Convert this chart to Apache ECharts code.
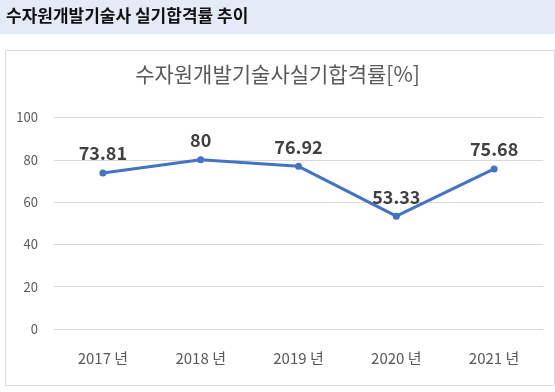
<!DOCTYPE html>
<html><head><meta charset="utf-8">
<script src="https://cdn.jsdelivr.net/npm/echarts@6/dist/echarts.min.js"></script>
<style>html,body{margin:0;padding:0;background:#fff}#c{width:555px;height:392px}</style>
</head><body><div id="c"></div>
<script>
const pageTitle = '수자원개발기술사 실기합격률 추이';
const chartTitle = '수자원개발기술사실기합격률[%]';
const categories = ['2017 년', '2018 년', '2019 년', '2020 년', '2021 년'];
const passRates = [73.81, 80, 76.92, 53.33, 75.68];
const yTicks = [0, 20, 40, 60, 80, 100];

const font = '"Noto Sans CJK KR", "Noto Sans", sans-serif';
const chart = echarts.init(document.getElementById('c'), null, {renderer: 'canvas'});
chart.setOption({
  animation: false,
  backgroundColor: '#fff',
  graphic: [
    {type: 'rect', left: 0, top: 0, shape: {width: 555, height: 34}, style: {fill: '#e4eaf6'}, z: -1},
    {type: 'text', left: 6, top: 7, style: {text: pageTitle, font: 'bold 17px ' + font, fill: '#111'}},
    {type: 'rect', left: 3, top: 48, shape: {width: 549, height: 335}, style: {fill: 'none', stroke: '#d9d9d9', lineWidth: 1}}
  ],
  title: {
    text: chartTitle, left: 'center', top: 59,
    textStyle: {fontFamily: font, fontSize: 21, fontWeight: 'normal', color: '#595959'}
  },
  grid: {left: 54, right: 12, top: 117.5, bottom: 63},
  xAxis: {
    type: 'category', data: categories, boundaryGap: true,
    axisLine: {show: false}, axisTick: {show: false},
    axisLabel: {fontFamily: font, fontSize: 15, color: '#595959', margin: 22}
  },
  yAxis: {
    type: 'value', min: yTicks[0], max: yTicks[yTicks.length - 1], interval: 20,
    axisLine: {show: false}, axisTick: {show: false},
    splitLine: {lineStyle: {color: '#d9d9d9', width: 1}},
    axisLabel: {fontFamily: font, fontSize: 13, color: '#595959', margin: 16}
  },
  series: [{
    type: 'line', data: passRates,
    lineStyle: {color: '#4472c4', width: 3},
    itemStyle: {color: '#4472c4'},
    symbol: 'circle', symbolSize: 7,
    label: {show: true, position: 'top', distance: 7, fontFamily: font, fontSize: 18, fontWeight: 'bold', color: '#404040'}
  }]
});
</script></body></html>
